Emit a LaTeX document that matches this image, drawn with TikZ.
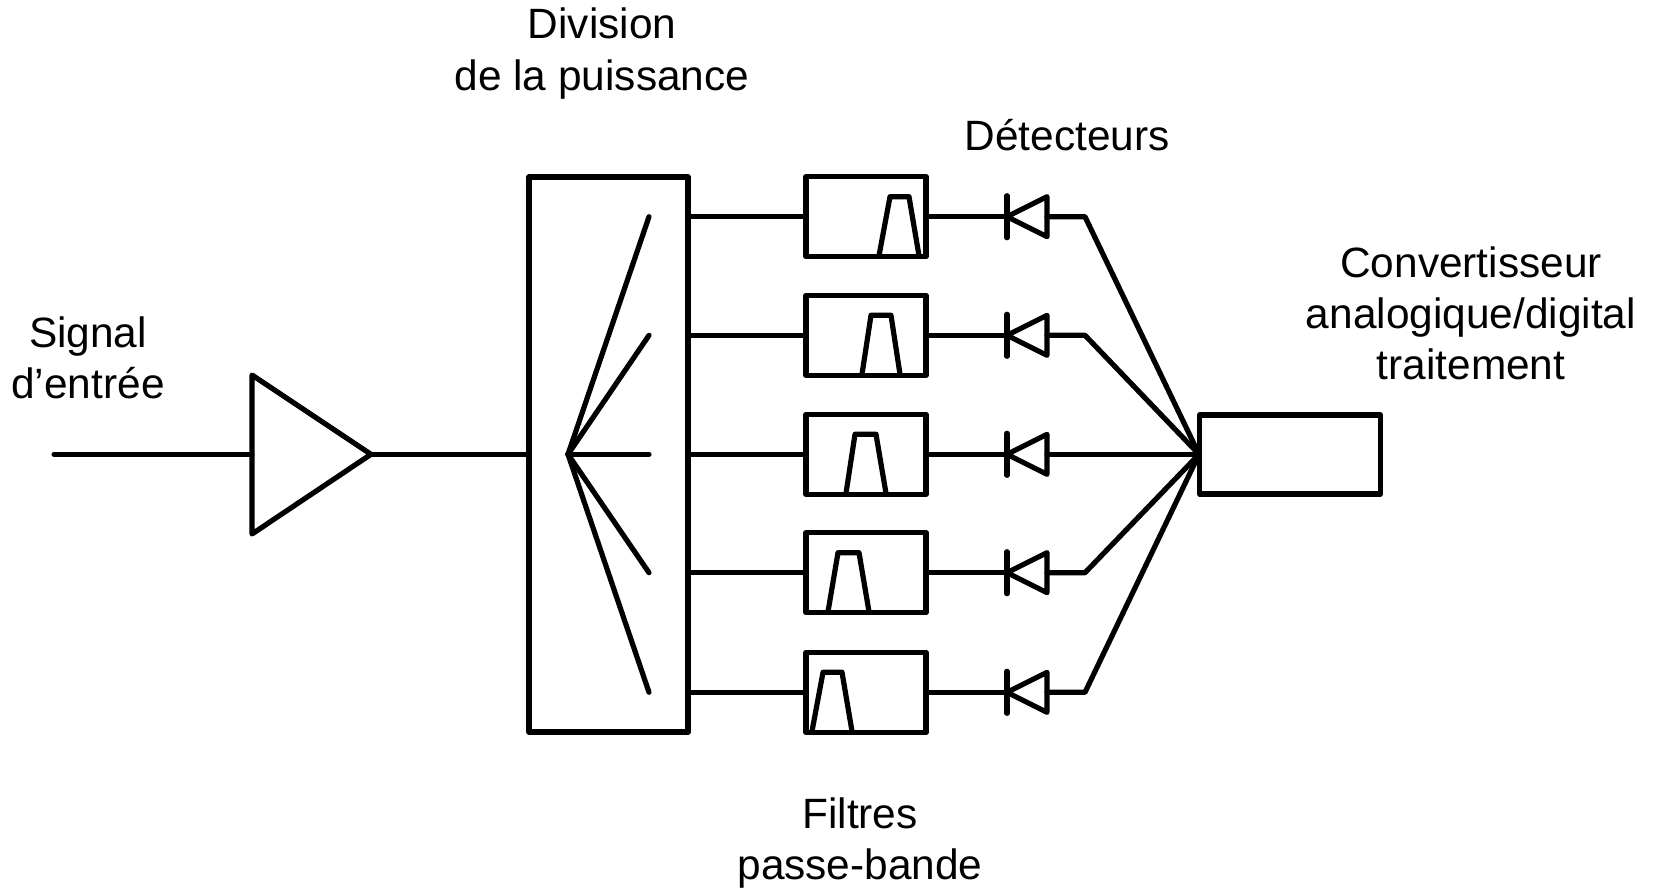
\documentclass[tikz,border=0pt]{standalone}
\usepackage{fontspec}
\setmainfont{Liberation Sans}
\begin{document}
\begin{tikzpicture}[x=1pt,y=-1pt,line width=5.2pt,line join=round,line cap=round,
  blockbox/.style={draw,rectangle,inner sep=0pt,outer sep=0pt,minimum width=#1},
  lbl/.style={anchor=base,inner sep=0pt,font=\fontsize{42.4}{51}\selectfont,text=black}]
\useasboundingbox (0,0) rectangle (1656,888);
% input + amplifier
\coordinate (in) at (54,454.3);
\coordinate (ampT) at (252,375);
\coordinate (ampB) at (252,534);
\coordinate (ampL) at (252,454.3);
\coordinate (ampA) at (371,454.3);
\draw (ampT) -- (ampA) -- (ampB) -- cycle;
\draw (in) -- (ampL);
% splitter
\node[blockbox=159pt,minimum height=555pt] (split) at (608.5,454.5) {};
\draw (ampA) -- (split.west |- ampA);
\coordinate (fan) at (568,454.3);
% converter
\node[blockbox=181pt,minimum height=79pt] (conv) at (1290,454.5) {};
\coordinate (sum) at (1199,454.3);
% rows: index / y / trapezoid x's
\foreach \i/\y/\a/\b/\c/\d in {1/216.7/879/890/909/919,2/335.3/862/871/891/900,3/454.3/846/855/876/886,4/572.7/828/838/859/869,5/692.3/812/823/842/852}{
  \node[blockbox=120pt,minimum height=80pt] (f\i) at (866,\y) {};
  \coordinate (fo\i) at (649,\y);
  \draw (fan) -- (fo\i);
  \draw (split.east |- fo\i) -- (f\i.west |- fo\i);
  \draw (\a,\y+39) -- (\b,\y-20) -- (\c,\y-20) -- (\d,\y+39);
  \coordinate (dbar\i) at (1007,\y);
  \coordinate (dbase\i) at (1047,\y);
  \coordinate (bend\i) at (1085,\y);
  \draw (f\i.east |- dbar\i) -- (dbar\i);
  \draw ([yshift=-21pt]dbar\i) -- ([yshift=21pt]dbar\i);
  \draw (dbar\i) -- ([yshift=-20pt]dbase\i) -- ([yshift=20pt]dbase\i) -- cycle;
  \draw (dbase\i) -- (bend\i) -- (sum);
}
% labels
\node[lbl] (t1) at (602,39) {Division};
\node[lbl] (t2) at (602,91) {de la puissance};
\node[lbl] (t3) at (1067,150) {Détecteurs};
\node[lbl] (t4) at (88,347) {Signal};
\node[lbl] (t5) at (88,398) {d’entrée};
\node[lbl] (t6) at (1471,277) {Convertisseur};
\node[lbl] (t7) at (1471,328) {analogique/digital};
\node[lbl] (t8) at (1471,379) {traitement};
\node[lbl] (t9) at (860,828) {Filtres};
\node[lbl] (t10) at (860,879) {passe-bande};
\end{tikzpicture}
\end{document}
